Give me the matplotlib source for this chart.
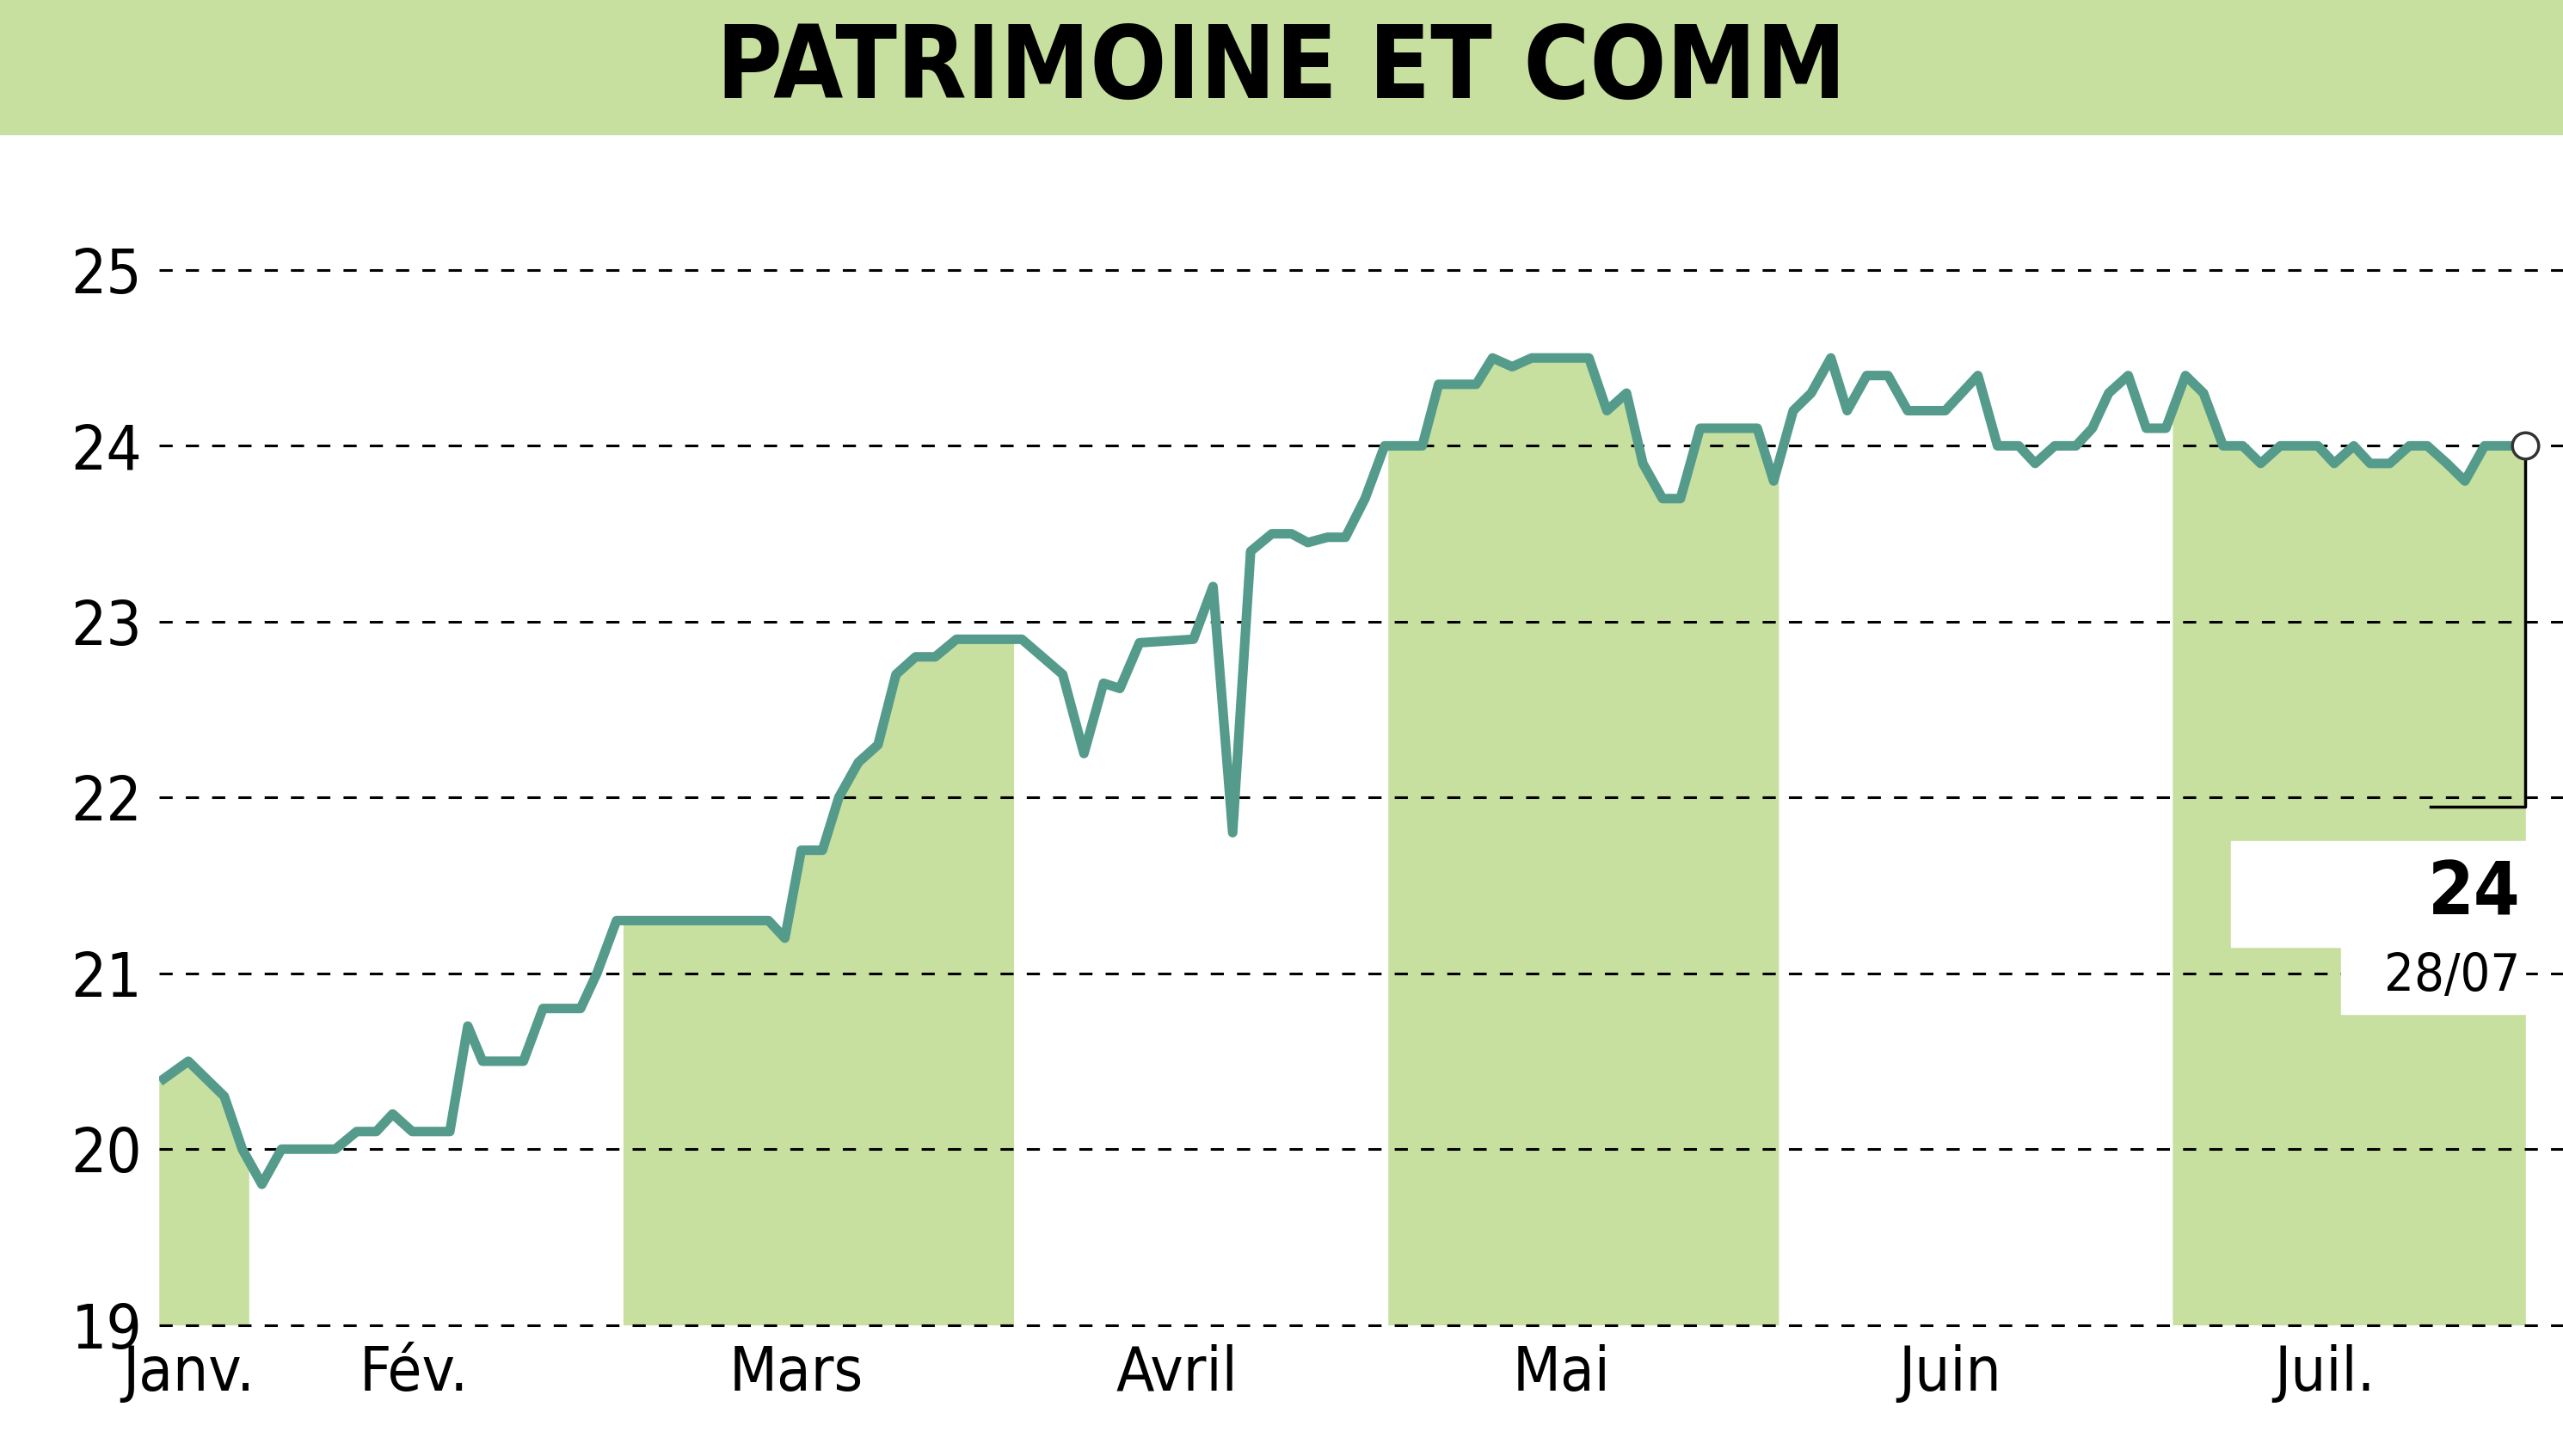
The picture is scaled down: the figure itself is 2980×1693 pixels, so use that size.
import numpy as np
import matplotlib
matplotlib.use("Agg")
import matplotlib.pyplot as plt

t = [100,115,137,148,160,172,205,218,230,240,252,275,286,295,320,332,355,365,377,470,480,490,503,513,525,537,548,560,572,585,625,650,663,675,685,697,730,742,754,765,778,790,800,812,823,835,847,870,880,903,913,925,937,972,983,995,1005,1017,1028,1040,1075,1085,1097,1108,1120,1130,1142,1155,1167,1190,1210,1222,1235,1245,1257,1270,1280,1290,1302,1313,1325,1337,1348,1360,1372,1383,1395,1418,1428,1440,1450,1462,1474,1485,1497,1508,1520,1545]
price = [20.4,20.5,20.3,20.0,19.8,20.0,20.0,20.1,20.1,20.2,20.1,20.1,20.7,20.5,20.5,20.8,20.8,21.0,21.3,21.3,21.2,21.7,21.7,22.0,22.2,22.3,22.7,22.8,22.8,22.9,22.9,22.7,22.25,22.65,22.62,22.88,22.9,23.2,21.8,23.4,23.5,23.5,23.45,23.48,23.48,23.7,24.0,24.0,24.35,24.35,24.5,24.45,24.5,24.5,24.2,24.3,23.9,23.7,23.7,24.1,24.1,23.8,24.2,24.3,24.5,24.2,24.4,24.4,24.2,24.2,24.4,24.0,24.0,23.9,24.0,24.0,24.1,24.3,24.4,24.1,24.1,24.4,24.3,24.0,24.0,23.9,24.0,24.0,23.9,24.0,23.9,23.9,24.0,24.0,23.9,23.8,24.0,24.0]
months = ["Janv.","Fév.","Mars","Avril","Mai","Juin","Juil."]
month_pos = [115,253,487,720,955,1193,1422]
bands = [(97,152),(381,620),(849,1088),(1329,1545)]
yticks = [19,20,21,22,23,24,25]

green = "#c7e09f"
teal = "#559b8c"
fk = dict(family="DejaVu Sans", fontstretch="condensed")

fig = plt.figure(figsize=(29.8,16.93), dpi=100)
fig.patches.append(plt.Rectangle((0,0.908),1,0.092,transform=fig.transFigure,color=green,zorder=0))
fig.text(0.5,0.952,"PATRIMOINE ET COMM",ha="center",va="center",fontsize=84,
         fontweight="bold",**fk)

ax = fig.add_axes([0.062,0.09,0.938,0.797])
ax.set_xlim(97,1568)
ax.set_ylim(19,25.6)
tt = np.array(t, float); pp = np.array(price)
for a,b in bands:
    xs = np.linspace(a,b,400)
    ax.fill_between(xs, 19, np.interp(xs,tt,pp), color=green, lw=0, zorder=1)
for y in yticks:
    ax.axhline(y,color="black",ls=(0,(5,5)),lw=2.2,zorder=2,clip_on=False)
ax.plot(t,price,color=teal,lw=8,zorder=3,solid_joinstyle="round")
ax.plot([t[-1]],[price[-1]],"o",ms=22,mfc="white",mec="#333333",mew=2.5,zorder=5)
ax.plot([t[-1],t[-1],1487],[price[-1]-0.05,21.95,21.95],color="black",lw=2.5,zorder=4)
ax.add_patch(plt.Rectangle((1365,21.15),180,0.6,color="white",zorder=4))
ax.add_patch(plt.Rectangle((1432,20.77),113,0.4,color="white",zorder=4))
ax.text(1542,21.45,"24",ha="right",va="center",fontsize=62,fontweight="bold",zorder=6,**fk)
ax.text(1542,20.98,"28/07",ha="right",va="center",fontsize=44,zorder=6,**fk)

for s in ax.spines.values():
    s.set_visible(False)
ax.set_yticks(yticks)
ax.set_yticklabels([str(y) for y in yticks],fontsize=52,**fk)
ax.set_xticks(month_pos)
ax.set_xticklabels(months,fontsize=52,**fk)
ax.tick_params(length=0)
ax.tick_params(axis="x",pad=16)
ax.tick_params(axis="y",pad=14)
fig.savefig("out.png",dpi=100)
